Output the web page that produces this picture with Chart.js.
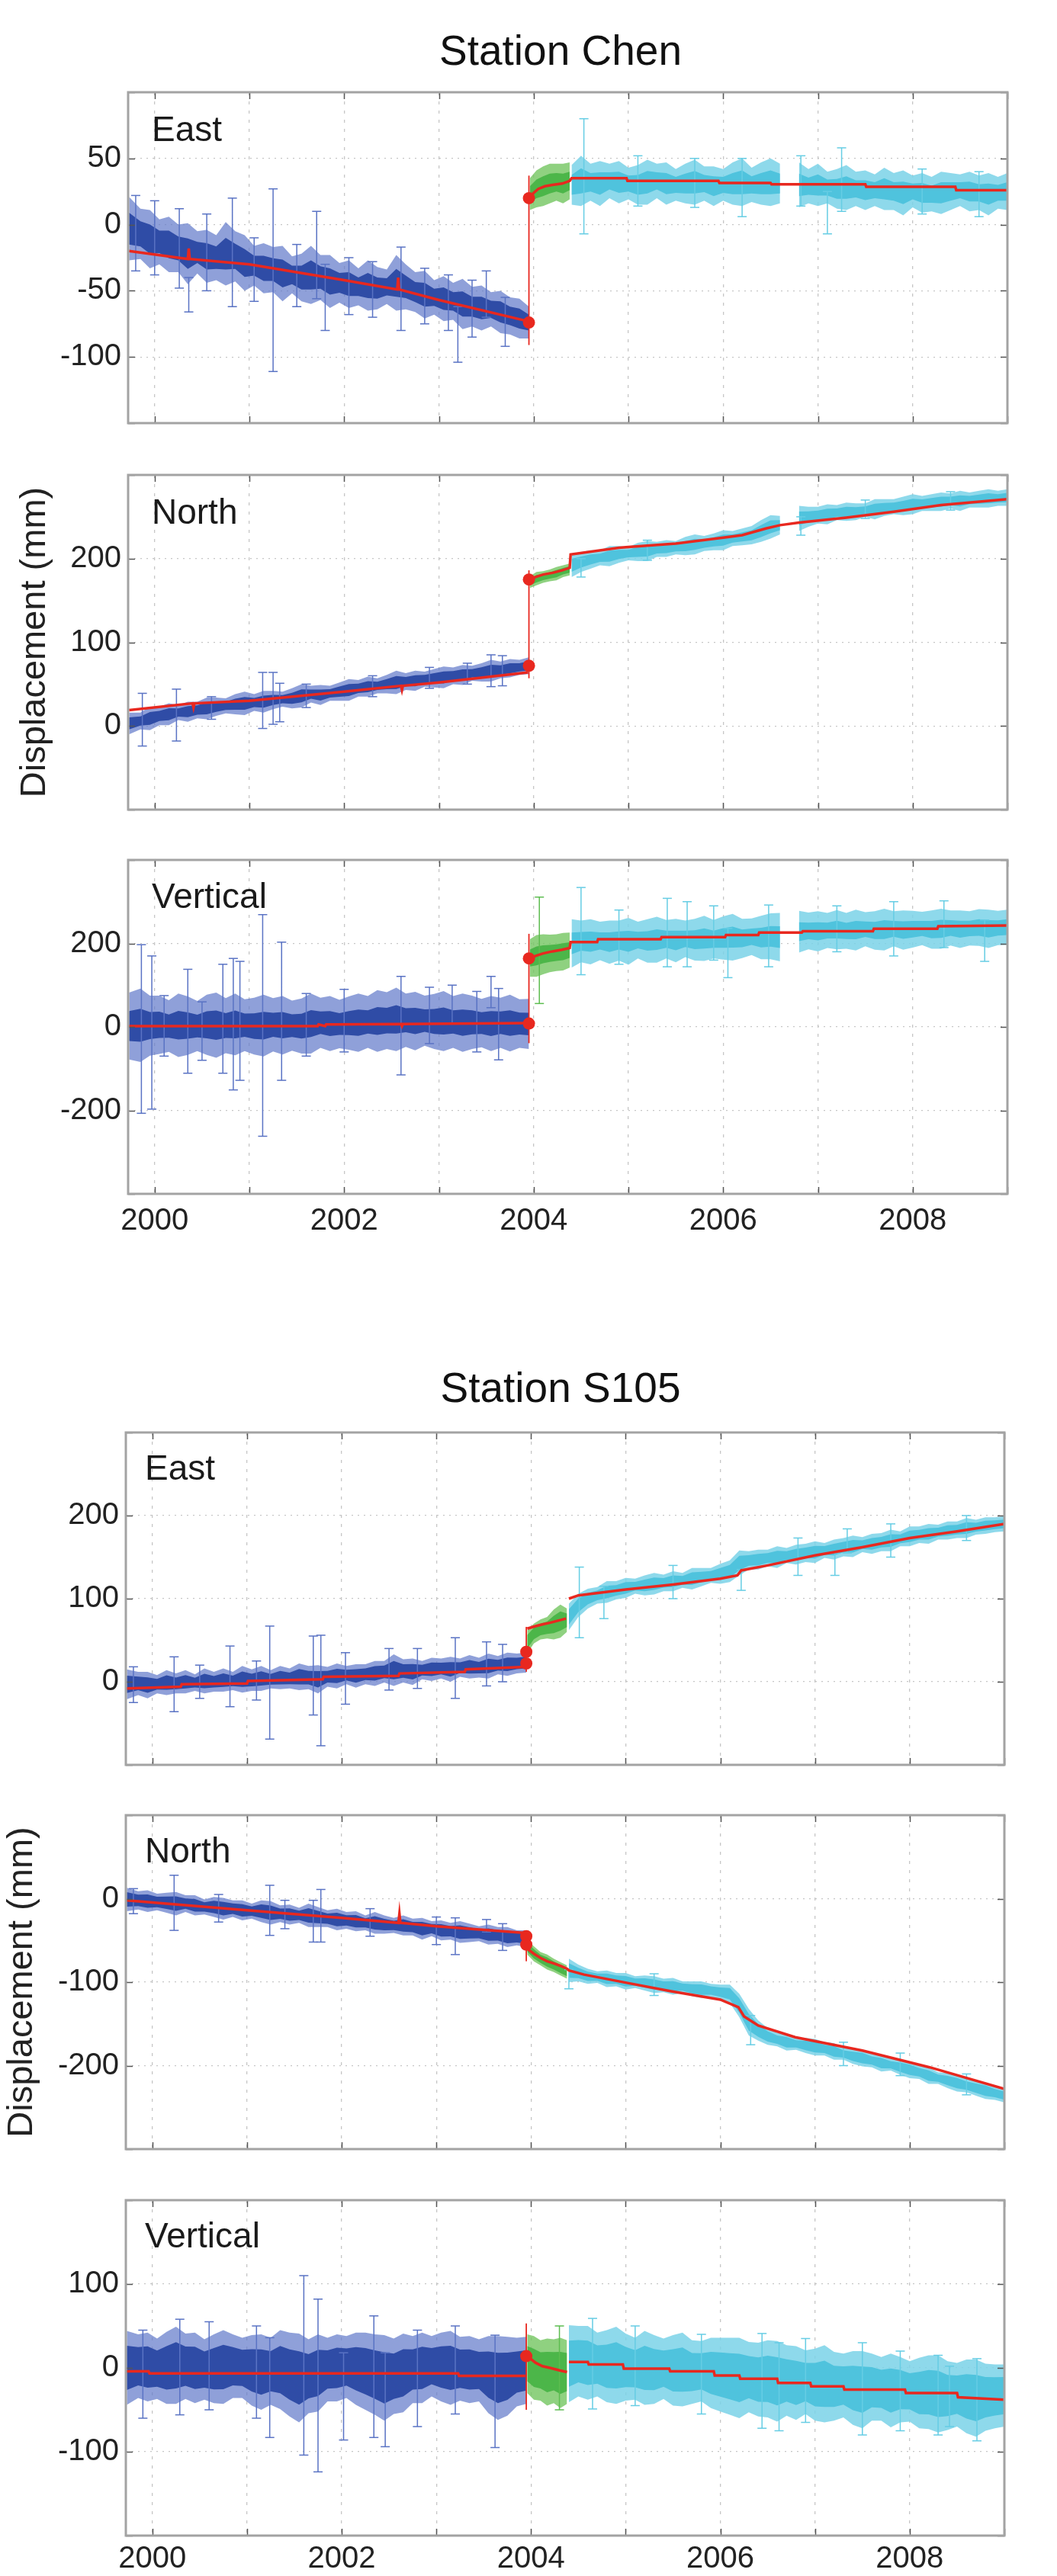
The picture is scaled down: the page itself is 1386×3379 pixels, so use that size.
<!DOCTYPE html>
<html>
<head>
<meta charset="utf-8">
<script src="https://cdn.jsdelivr.net/npm/chart.js@4.4.0/dist/chart.umd.min.js"></script>
<style>
  body { margin: 0; background: #fff; width: 1386px; height: 3379px; position: relative; overflow: hidden;
         font-family: "Liberation Sans", Arial, sans-serif; }
  .station { position: absolute; left: 535px; width: 400px; text-align: center; font-size: 55px; line-height: 55px; color: #111; }
  canvas { position: absolute; left: 0; }
</style>
</head>
<body>
<div class="station" style="top:39px">Station Chen</div>
<div class="station" style="top:1793px">Station S105</div>

<script>
// sample epochs (decimal years) of the three data segments
const blueYears = [1999.73, 1999.85, 1999.95, 2000.05, 2000.15, 2000.25, 2000.35, 2000.45, 2000.55, 2000.65, 2000.75, 2000.85, 2000.95,
  2001.05, 2001.15, 2001.25, 2001.35, 2001.45, 2001.55, 2001.65, 2001.75, 2001.85, 2001.95,
  2002.05, 2002.15, 2002.25, 2002.35, 2002.45, 2002.55, 2002.65, 2002.75, 2002.85, 2002.95,
  2003.05, 2003.15, 2003.25, 2003.35, 2003.45, 2003.55, 2003.65, 2003.75, 2003.85, 2003.95];
const greenYears = [2003.96, 2004.03, 2004.10, 2004.17, 2004.24, 2004.31, 2004.38];
const cyanYears = [2004.4, 2004.5, 2004.6, 2004.7, 2004.8, 2004.9, 2005.0, 2005.1, 2005.2, 2005.3,
  2005.4, 2005.5, 2005.6, 2005.7, 2005.8, 2005.9, 2006.0, 2006.1, 2006.2, 2006.3,
  2006.4, 2006.5, 2006.6, 2006.7, 2006.8, 2006.9, 2007.0, 2007.1, 2007.2, 2007.3,
  2007.4, 2007.5, 2007.6, 2007.7, 2007.8, 2007.9, 2008.0, 2008.1, 2008.2, 2008.3,
  2008.4, 2008.5, 2008.6, 2008.7, 2008.8, 2008.9, 2009.0];

// ---------- Station Chen, East ----------
const chenEastTicks = [-150, 100, 50];
const chenEastBlueMid = [-3, -7, -11, -13, -15, -18, -22, -21, -24, -25, -22, -24, -29, -31, -33, -34, -37, -38, -40, -38, -40, -43, -44,
  -45, -47, -46, -48, -47, -44, -47, -51, -53, -55, -56, -58, -60, -62, -63, -64, -66, -69, -71, -74];
const chenEastBlueErr = [24, 19, 22, 17, 21, 18, 23, 16, 20, 17, 24, 19, 21, 15, 19, 17, 21, 14, 18, 22, 17, 20, 15,
  18, 14, 19, 16, 13, 21, 17, 15, 18, 13, 17, 14, 19, 15, 17, 13, 16, 14, 15, 12];
const chenEastGreenMid = [23, 27, 29, 31, 32, 31, 33];
const chenEastGreenErr = [12, 14, 15, 15, 14, 15, 14];
const chenEastCyanMid = [30, 33, 32, 31, 33, 32, 31, 30, 32, 33, 31, 30, 31, 32, 31, 29, 30, 31, 32, 30, 31, 32, 31, null,
  30, 29, 30, 28, 27, 28, 27, 26, 26, 27, 25, 24, 25, 24, 23, 24, 25, 26, 25, 24, 23, 24, 25];
const chenEastCyanErr = [15, 19, 14, 17, 13, 16, 12, 15, 17, 13, 16, 12, 15, 17, 13, 15, 12, 16, 18, 13, 16, 18, 15, null,
  17, 13, 16, 12, 15, 17, 13, 15, 12, 16, 14, 17, 12, 15, 13, 16, 14, 12, 15, 13, 16, 12, 14];
const chenEastSpikeYears = [2000.26, 2000.36, 2000.82, 2001.25, 2001.71, 2001.8, 2002.6, 2003.2, 2003.5, 2004.53, 2006.2, 2006.82, 2007.1, 2007.25,
  1999.8, 2000.0, 2000.55, 2001.05, 2001.5, 2002.05, 2002.3, 2002.85, 2003.1, 2003.35, 2003.7, 2005.1, 2005.7, 2008.1, 2008.7];
const chenEastSpikeLo = [-48, -66, -62, -111, -56, -80, -80, -104, -70, -7, 6, 14, -7, 10,
  -35, -38, -50, -58, -62, -68, -70, -75, -80, -85, -92, 14, 13, 8, 6];
const chenEastSpikeHi = [12, -40, 20, 27, 10, -30, -17, -62, -35, 80, 50, 52, 25, 58,
  22, 18, 8, -10, -15, -25, -28, -33, -38, -42, -55, 52, 50, 42, 40];
const chenEastModelYears = [1999.73, 2000.35, 2000.36, 2000.37, 2001.0, 2002.0, 2002.56, 2002.57, 2002.58, 2003.0, 2003.94, 2003.95,
  2003.96, 2004.0, 2004.05, 2004.12, 2004.2, 2004.3, 2004.38,
  2004.4, 2004.98, 2004.99, 2005.95, 2005.96, 2006.5, 2006.51, 2007.5, 2007.51, 2008.45, 2008.46, 2009.0];
const chenEastModel = [-20, -26, -18, -26, -30, -42, -49, -40, -49, -57, -73, null,
  20, 24, 27, 29, 30, 31, 33,
  35, 35, 33, 33, 31.5, 31.5, 30.5, 30.5, 28.5, 28.5, 26, 26];
const chenEastOffset = [2003.95, -91, 37];
const chenEastDots = [-74, 20];

// ---------- Station Chen, North ----------
const chenNorthTicks = [-100, 300, 100];
const chenNorthBlueMid = [3, 6, 9, 12, 14, 16, 17, 19, 21, 23, 24, 26, 27, 28, 29, 31, 32, 33, 36, 38, 37, 39, 41,
  43, 45, 47, 48, 50, 52, 53, 54, 56, 57, 58, 60, 61, 63, 64, 66, 67, 69, 70, 72];
const chenNorthBlueErr = [13, 10, 14, 11, 13, 9, 12, 10, 13, 11, 9, 12, 14, 10, 13, 11, 9, 12, 14, 10, 12, 9, 11,
  13, 10, 12, 9, 11, 14, 10, 12, 9, 11, 13, 10, 12, 9, 11, 13, 10, 11, 9, 10];
const chenNorthGreenMid = [172, 176, 178, 180, 182, 185, 187];
const chenNorthGreenErr = [7, 8, 7, 7, 8, 7, 7];
const chenNorthCyanMid = [192, 196, 199, 201, 203, 205, 206, 208, 209, 211, 212, 213, 215, 217, 218, 220, 222, 224, 226, 228, 233, 238, 240, null,
  248, 250, 252, 253, 255, 256, 256, 258, 259, 261, 262, 263, 265, 266, 267, 268, 269, 269, 270, 271, 272, 272, 273];
const chenNorthCyanErr = [14, 12, 11, 9, 12, 10, 8, 11, 12, 9, 10, 8, 11, 12, 9, 10, 12, 9, 10, 11, 13, 14, 11, null,
  15, 12, 10, 12, 9, 11, 10, 8, 12, 10, 9, 11, 12, 9, 10, 11, 9, 12, 9, 10, 11, 9, 10];
const chenNorthSpikeYears = [1999.87, 2000.23, 2001.14, 2001.25, 2001.32, 2003.55, 2003.67, 2004.5, 2006.82,
  2000.6, 2001.6, 2002.3, 2002.9, 2003.3, 2005.2, 2007.5, 2008.4];
const chenNorthSpikeLo = [-24, -18, -3, 2, 5, 47, 48, 178, 228, 8, 22, 35, 45, 50, 198, 248, 258];
const chenNorthSpikeHi = [39, 44, 64, 64, 51, 85, 84, 200, 250, 35, 50, 60, 70, 75, 222, 270, 280];
const chenNorthModelYears = [1999.73, 2000.4, 2000.41, 2000.42, 2001.0, 2002.0, 2002.6, 2002.61, 2002.62, 2003.0, 2003.94, 2003.95,
  2003.96, 2004.02, 2004.1, 2004.2, 2004.3, 2004.38,
  2004.39, 2004.9, 2005.0, 2005.5, 2006.0, 2006.2, 2006.45, 2006.6, 2006.8, 2007.3, 2007.8, 2008.3, 2009.0];
const chenNorthModel = [19, 27, 22, 27, 30, 41, 48, 43, 48, 52, 64, null,
  175, 178, 181, 183, 186, 189,
  205, 213, 214, 218, 225, 228, 236, 240, 243, 249, 256, 264, 271];
const chenNorthOffset = [2003.95, 57, 186];
const chenNorthDots = [72, 175];

// ---------- Station Chen, Vertical ----------
const chenVertTicks = [-400, 400, 200];
const chenVertBlueMid = [2, 4, 3, 5, 2, 4, 3, 2, 5, 4, 3, 6, 4, 2, 3, 5, 4, 3, 2, 8, 10, 8, 7,
  9, 10, 12, 14, 15, 18, 16, 14, 15, 13, 14, 12, 10, 11, 9, 8, 10, 9, 8, 7];
const chenVertBlueErr = [80, 88, 72, 70, 62, 76, 70, 60, 72, 78, 66, 74, 62, 68, 74, 64, 70, 60, 66, 72, 60, 66, 58,
  64, 70, 62, 74, 68, 76, 64, 70, 60, 66, 72, 62, 70, 64, 58, 66, 60, 68, 58, 60];
const chenVertGreenMid = [165, 170, 174, 176, 178, 180, 184];
const chenVertGreenErr = [45, 50, 48, 45, 44, 45, 42];
const chenVertCyanMid = [200, 205, 204, 206, 203, 207, 205, 208, 206, 209, 210, 207, 211, 209, 212, 210, 213, 215, 212, 216, 214, 217, 215, null,
  228, 230, 229, 231, 233, 230, 232, 234, 231, 233, 235, 232, 234, 236, 233, 235, 237, 234, 236, 238, 235, 237, 239];
const chenVertCyanErr = [58, 50, 54, 46, 52, 48, 56, 44, 52, 55, 46, 52, 44, 50, 54, 46, 52, 56, 47, 44, 52, 55, 58, null,
  50, 44, 48, 42, 47, 43, 49, 41, 46, 50, 42, 47, 44, 40, 46, 48, 42, 45, 41, 44, 46, 41, 42];
const chenVertSpikeYears = [1999.86, 1999.97, 2000.35, 2000.72, 2000.83, 2000.9, 2001.14, 2001.34, 2002.6, 2003.14, 2003.55, 2003.63,
  2004.06, 2004.5, 2005.41, 2005.62, 2006.05, 2006.48, 2008.33, 2008.76,
  2000.1, 2000.5, 2001.6, 2002.0, 2002.9, 2003.4, 2004.9, 2005.9, 2007.2, 2007.8];
const chenVertSpikeLo = [-207, -197, -111, -111, -151, -128, -262, -128, -115, 7, 46, -79, 56, 125, 144, 144, 118, 144, 190, 157,
  -70, -80, -70, -60, -40, -60, 150, 160, 180, 170];
const chenVertSpikeHi = [197, 170, 138, 150, 164, 157, 269, 203, 121, 100, 121, 92, 311, 334, 308, 300, 236, 292, 302, 256,
  75, 60, 80, 90, 95, 85, 280, 290, 290, 300];
const chenVertModelYears = [1999.73, 2001.72, 2001.73, 2001.8, 2001.81, 2001.9, 2002.6, 2002.61, 2002.62, 2003.94, 2003.95,
  2003.96, 2004.02, 2004.1, 2004.2, 2004.3, 2004.38,
  2004.39, 2004.67, 2004.68, 2005.34, 2005.35, 2006.02, 2006.03, 2006.37, 2006.38, 2006.83, 2006.84, 2007.58, 2007.59, 2008.26, 2008.27, 2009.0];
const chenVertModel = [2, 2, 6, 2, 6, 6, 7, 2, 7, 9, null,
  164, 170, 176, 181, 185, 189,
  203, 203, 210, 210, 215, 215, 220, 220, 226, 226, 229, 229, 235, 235, 241, 243];
const chenVertOffset = [2003.95, -39, 223];
const chenVertDots = [8, 164];

// ---------- Station S105, East ----------
const s105EastTicks = [-100, 300, 100];
const s105EastBlueMid = [-3, -2, -4, -3, -1, -2, 0, -1, 1, 0, 2, 1, 3, 2, 4, 3, 5, 4, 6, 5, 3, 6, 7,
  8, 7, 9, 10, 12, 14, 13, 12, 14, 15, 16, 15, 17, 18, 17, 19, 20, 21, 22, 23];
const s105EastBlueErr = [18, 14, 16, 11, 15, 12, 14, 10, 15, 12, 14, 11, 16, 13, 15, 11, 14, 12, 16, 14, 17, 12, 15,
  11, 14, 12, 15, 13, 19, 14, 16, 11, 14, 12, 15, 11, 14, 12, 15, 11, 14, 12, 12];
const s105EastGreenMid = [48, 58, 63, 65, 69, 73, 74];
const s105EastGreenErr = [14, 12, 12, 13, 18, 20, 14];
const s105EastCyanMid = [78, 92, 100, 104, 108, 110, 113, 115, 116, 118, 119, 121, 122, 124, 126, 128, 130, 133, 143, 146,
  147, 149, 150, 152, 153, 155, 156, 158, 159, 162, 163, 165, 166, 168, 170, 172, 175, 177, 178, 180,
  182, 183, 185, 186, 188, 189, 190];
const s105EastCyanErr = [16, 14, 12, 10, 13, 11, 12, 9, 12, 13, 10, 12, 9, 13, 11, 9, 12, 13, 15, 11,
  12, 10, 13, 9, 12, 11, 13, 9, 12, 11, 13, 9, 12, 11, 13, 9, 12, 10, 12, 9,
  11, 10, 12, 9, 10, 9, 9];
const s105EastSpikeYears = [2000.23, 2000.82, 2001.24, 2001.7, 2001.78, 2002.04, 2003.2, 2003.53, 2004.51, 2004.77, 2006.22, 2006.82, 2007.21, 2007.34,
  1999.8, 2000.5, 2001.1, 2002.5, 2002.8, 2003.7, 2005.5, 2007.8, 2008.6];
const s105EastSpikeLo = [-36, -30, -69, -40, -77, -27, -20, -5, 53, 76, 110, 128, 128, 155,
  -25, -20, -22, -10, -8, 0, 100, 150, 170];
const s105EastSpikeHi = [30, 43, 67, 55, 56, 35, 53, 48, 138, 115, 135, 173, 155, 184,
  18, 20, 25, 40, 40, 45, 140, 190, 200];
const s105EastModelYears = [1999.73, 2000.3, 2000.31, 2001.0, 2001.01, 2001.8, 2001.81, 2002.6, 2002.61, 2003.3, 2003.31, 2003.94, 2003.95,
  2003.96, 2004.05, 2004.12, 2004.2, 2004.3, 2004.37, 2004.38,
  2004.4, 2004.5, 2005.0, 2005.5, 2006.0, 2006.18, 2006.22, 2006.5, 2007.0, 2007.5, 2008.0, 2008.5, 2009.0];
const s105EastModel = [-8, -6, -3, -2, 1, 3, 6, 7, 10, 12, 15, 18, null,
  64, 67, 69, 71, 74, 76, null,
  100, 104, 111, 117, 124, 128, 134, 140, 152, 162, 173, 181, 190];
const s105EastOffset = [2003.95, 12, 66];
const s105EastDots = [22, 36];

// ---------- Station S105, North ----------
const s105NorthTicks = [-300, 100, 100];
const s105NorthBlueMid = [-1, -2, -3, -4, -5, -6, -6, -8, -10, -10, -12, -12, -14, -15, -15, -17, -18, -19, -20, -20, -22, -24, -25,
  -26, -27, -29, -29, -31, -32, -32, -34, -36, -36, -38, -39, -40, -41, -42, -43, -44, -46, -47, -48];
const s105NorthBlueErr = [14, 11, 13, 10, 12, 14, 10, 12, 9, 12, 13, 10, 12, 9, 13, 14, 10, 12, 9, 14, 12, 10, 13,
  10, 12, 9, 13, 11, 9, 12, 10, 13, 9, 12, 10, 13, 11, 9, 12, 10, 12, 9, 10];
const s105NorthGreenMid = [-58, -66, -72, -76, -80, -84, -88];
const s105NorthGreenErr = [9, 9, 8, 9, 8, 8, 8];
const s105NorthCyanMid = [-86, -89, -93, -94, -96, -97, -99, -100, -101, -103, -104, -105, -106, -108, -109, -110, -112, -114, -128, -148,
  -158, -165, -169, -172, -174, -176, -178, -180, -183, -186, -189, -191, -194, -197, -199, -202, -205, -208, -212, -215,
  -218, -221, -224, -227, -230, -233, -236];
const s105NorthCyanErr = [14, 10, 9, 7, 10, 8, 10, 7, 9, 10, 8, 10, 7, 9, 10, 8, 9, 11, 14, 16,
  12, 10, 8, 10, 7, 9, 10, 8, 10, 7, 9, 10, 8, 10, 7, 9, 10, 8, 10, 7, 9, 10, 8, 9, 10, 8, 8];
const s105NorthSpikeYears = [2000.23, 2001.24, 2001.7, 2001.78, 2003.2, 2003.53, 2004.4, 2006.32, 2007.9,
  1999.8, 2000.7, 2001.4, 2002.3, 2003.0, 2003.7, 2005.3, 2007.3, 2008.6];
const s105NorthSpikeLo = [-38, -44, -52, -52, -67, -40, -108, -175, -212, -18, -28, -36, -45, -55, -62, -116, -200, -235];
const s105NorthSpikeHi = [28, 16, -2, 11, -23, -25, -85, -140, -185, 12, 5, -2, -12, -22, -30, -90, -172, -210];
const s105NorthModelYears = [1999.73, 2001.0, 2002.0, 2002.6, 2002.61, 2002.62, 2003.0, 2003.94, 2003.95,
  2003.96, 2004.03, 2004.1, 2004.17, 2004.25, 2004.32, 2004.38,
  2004.4, 2004.56, 2005.02, 2005.48, 2006.0, 2006.19, 2006.25, 2006.4, 2006.79, 2007.5, 2008.21, 2009.0];
const s105NorthModel = [-2, -14, -23, -29, -18, -29, -33, -41, null,
  -60, -66, -71, -75, -78, -81, -84,
  -86, -91, -101, -111, -121, -130, -141, -152, -166, -182, -202, -228];
const s105NorthOffset = [2003.95, -75, -40];
const s105NorthDots = [-45, -55];

// ---------- Station S105, Vertical ----------
const s105VertTicks = [-200, 200, 100];
const s105VertBlueMid = [0, 2, 1, -1, 0, 3, 2, 0, -2, -1, 1, 2, 0, -3, -5, -4, -2, -8, -12, -10, -6, -2, 0,
  1, -1, -4, -8, -12, -10, -6, -2, 0, 2, 1, 0, -1, -2, -3, -8, -12, -10, -5, -3];
const s105VertBlueErr = [44, 38, 41, 36, 43, 46, 39, 42, 36, 41, 44, 38, 36, 42, 45, 40, 47, 50, 53, 44, 46, 38, 40,
  37, 43, 46, 48, 51, 45, 47, 40, 42, 36, 41, 44, 38, 40, 37, 46, 50, 47, 41, 40];
const s105VertGreenMid = [5, 0, -3, -5, -4, -6, -5];
const s105VertGreenErr = [35, 38, 36, 40, 38, 42, 38];
const s105VertCyanMid = [5, 8, 6, 4, 2, 3, 1, -1, 0, -2, -1, -3, -2, -5, -4, -6, -8, -10, -12, -11,
  -14, -13, -16, -15, -18, -17, -20, -19, -22, -21, -24, -26, -23, -25, -27, -26, -28, -30, -29, -31,
  -33, -32, -34, -36, -35, -34, -33];
const s105VertCyanErr = [46, 42, 44, 38, 43, 46, 40, 37, 44, 41, 36, 42, 44, 38, 36, 42, 44, 46, 48, 42,
  44, 46, 48, 42, 44, 38, 43, 46, 41, 38, 44, 46, 40, 38, 44, 39, 36, 42, 44, 46,
  41, 38, 44, 46, 40, 38, 37];
const s105VertSpikeYears = [2000.29, 2001.24, 2001.6, 2001.75, 2002.02, 2002.34, 2002.46, 2003.62, 2004.3, 2004.65, 2006.44, 2006.62, 2007.5, 2008.42, 2008.71,
  1999.9, 2000.6, 2001.1, 2002.8, 2003.2, 2005.1, 2005.8, 2006.9, 2007.9, 2008.3];
const s105VertSpikeLo = [-56, -83, -104, -124, -86, -83, -94, -95, -50, -49, -72, -75, -80, -70, -87,
  -60, -50, -60, -70, -55, -45, -55, -65, -75, -80];
const s105VertSpikeHi = [58, 36, 110, 82, 18, 62, 18, 39, 50, 59, 41, 30, 30, 2, 11,
  45, 55, 50, 45, 50, 50, 40, 35, 20, 15];
const s105VertModelYears = [1999.73, 1999.96, 1999.97, 2003.23, 2003.24, 2003.94, 2003.95,
  2003.96, 2004.05, 2004.12, 2004.2, 2004.3, 2004.38, 2004.39,
  2004.4, 2004.6, 2004.61, 2004.97, 2004.98, 2005.46, 2005.47, 2005.93, 2005.94, 2006.2, 2006.21, 2006.6, 2006.61,
  2006.95, 2006.96, 2007.3, 2007.31, 2007.95, 2007.96, 2008.5, 2008.51, 2009.0];
const s105VertModel = [-4, -4, -6.5, -6.5, -9.5, -9.5, null,
  14, 6, 2, 0, -3, -5, null,
  7, 7, 4, 4, -1, -1, -4, -4, -9, -9, -13, -13, -18, -18, -22, -22, -26, -26, -30, -30, -35, -38];
const s105VertOffset = [2003.95, -50, 53];
const s105VertDots = [14];

// ---------- drawing ----------
const colors = {
  blue: { core: '#2f4ca6', err: 'rgba(100,124,202,0.72)', bar: '#5a73c4' },
  green: { core: '#4cb649', err: 'rgba(112,196,92,0.78)', bar: '#5dbd50' },
  cyan: { core: '#4fc3dd', err: 'rgba(122,210,232,0.85)', bar: '#66cde4' }
};
const red = '#e8281f';

const series = [
  { ticks: chenEastTicks, blue: [chenEastBlueMid, chenEastBlueErr], green: [chenEastGreenMid, chenEastGreenErr],
    cyan: [chenEastCyanMid, chenEastCyanErr], spikes: [chenEastSpikeYears, chenEastSpikeLo, chenEastSpikeHi],
    model: [chenEastModelYears, chenEastModel], offset: chenEastOffset, dots: chenEastDots },
  { ticks: chenNorthTicks, blue: [chenNorthBlueMid, chenNorthBlueErr], green: [chenNorthGreenMid, chenNorthGreenErr],
    cyan: [chenNorthCyanMid, chenNorthCyanErr], spikes: [chenNorthSpikeYears, chenNorthSpikeLo, chenNorthSpikeHi],
    model: [chenNorthModelYears, chenNorthModel], offset: chenNorthOffset, dots: chenNorthDots },
  { ticks: chenVertTicks, blue: [chenVertBlueMid, chenVertBlueErr], green: [chenVertGreenMid, chenVertGreenErr],
    cyan: [chenVertCyanMid, chenVertCyanErr], spikes: [chenVertSpikeYears, chenVertSpikeLo, chenVertSpikeHi],
    model: [chenVertModelYears, chenVertModel], offset: chenVertOffset, dots: chenVertDots },
  { ticks: s105EastTicks, blue: [s105EastBlueMid, s105EastBlueErr], green: [s105EastGreenMid, s105EastGreenErr],
    cyan: [s105EastCyanMid, s105EastCyanErr], spikes: [s105EastSpikeYears, s105EastSpikeLo, s105EastSpikeHi],
    model: [s105EastModelYears, s105EastModel], offset: s105EastOffset, dots: s105EastDots },
  { ticks: s105NorthTicks, blue: [s105NorthBlueMid, s105NorthBlueErr], green: [s105NorthGreenMid, s105NorthGreenErr],
    cyan: [s105NorthCyanMid, s105NorthCyanErr], spikes: [s105NorthSpikeYears, s105NorthSpikeLo, s105NorthSpikeHi],
    model: [s105NorthModelYears, s105NorthModel], offset: s105NorthOffset, dots: s105NorthDots },
  { ticks: s105VertTicks, blue: [s105VertBlueMid, s105VertBlueErr], green: [s105VertGreenMid, s105VertGreenErr],
    cyan: [s105VertCyanMid, s105VertCyanErr], spikes: [s105VertSpikeYears, s105VertSpikeLo, s105VertSpikeHi],
    model: [s105VertModelYears, s105VertModel], offset: s105VertOffset, dots: s105VertDots }
];

// panel boxes on the page (plot area edges in px) and how thick the dark point cloud is
const boxes = [
  { label: 'East', top: 121, bottom: 555, left: 168, right: 1321, dx: 31, dy: 64, core: 0.5 },
  { label: 'North', top: 623, bottom: 1062, left: 168, right: 1321, dx: 31, dy: 64, core: 0.55, yTitle: 18 },
  { label: 'Vertical', top: 1128, bottom: 1566, left: 168, right: 1321, dx: 31, dy: 63, core: 0.45, xLabels: 12 },
  { label: 'East', top: 1879, bottom: 2315, left: 165, right: 1317, dx: 25, dy: 62, core: 0.58 },
  { label: 'North', top: 2381, bottom: 2819, left: 165, right: 1317, dx: 25, dy: 62, core: 0.62, yTitle: 1 },
  { label: 'Vertical', top: 2886, bottom: 3326, left: 165, right: 1317, dx: 25, dy: 62, core: 0.6, xLabels: 7 }
];

function band(years, mid, err, k) {
  return years.map((x, i) => ({ x: x, y: mid[i] === null ? null : mid[i] + k * err[i] }));
}

function segmentSets(years, pair, c, core) {
  const mid = pair[0], err = pair[1];
  return [
    { data: band(years, mid, err, 1), fill: '+1', backgroundColor: c.err, order: 6 },
    { data: band(years, mid, err, -1), fill: false, order: 6 },
    { data: band(years, mid, err, core), fill: '+1', backgroundColor: c.core, order: 5 },
    { data: band(years, mid, err, -core), fill: false, order: 5 }
  ];
}

function spikeSets(sp) {
  const groups = { blue: [], green: [], cyan: [] };
  sp[0].forEach((x, i) => {
    const g = x < 2003.955 ? 'blue' : (x < 2004.39 ? 'green' : 'cyan');
    groups[g].push({ x: x, y: sp[1][i] }, { x: x, y: sp[2][i] }, { x: x, y: null });
  });
  return Object.keys(groups).map(g => ({
    data: groups[g], borderColor: colors[g].bar, borderWidth: 1.5,
    pointStyle: 'line', pointRadius: 6, pointBorderColor: colors[g].bar, pointBorderWidth: 1.5, order: 4
  }));
}

// frame, inward ticks and the component name
const framePlugin = {
  id: 'frame',
  afterDatasetsDraw(chart, args, opts) {
    const { ctx, chartArea: a, scales } = chart;
    ctx.save();
    ctx.strokeStyle = '#555';
    ctx.lineWidth = 1.5;
    ctx.beginPath();
    scales.x.ticks.forEach(t => {
      const px = Math.round(scales.x.getPixelForValue(t.value)) + 0.5;
      ctx.moveTo(px, a.bottom); ctx.lineTo(px, a.bottom - 9);
      ctx.moveTo(px, a.top); ctx.lineTo(px, a.top + 9);
    });
    scales.y.ticks.forEach(t => {
      const py = Math.round(scales.y.getPixelForValue(t.value)) + 0.5;
      ctx.moveTo(a.left, py); ctx.lineTo(a.left + 9, py);
      ctx.moveTo(a.right, py); ctx.lineTo(a.right - 9, py);
    });
    ctx.stroke();
    ctx.strokeStyle = '#a3a3a3';
    ctx.lineWidth = 3;
    ctx.strokeRect(a.left, a.top, a.right - a.left, a.bottom - a.top);
    ctx.fillStyle = '#1a1a1a';
    ctx.font = '46px "Liberation Sans", Arial, sans-serif';
    ctx.textBaseline = 'alphabetic';
    ctx.textAlign = 'left';
    ctx.fillText(opts.text, a.left + opts.dx, a.top + opts.dy);
    ctx.restore();
  }
};

Chart.defaults.font.family = '"Liberation Sans", Arial, sans-serif';

series.forEach((s, n) => {
  const b = boxes[n];
  const padTop = 40;
  const padBot = b.xLabels !== undefined ? 70 : 40;
  const canvas = document.createElement('canvas');
  canvas.width = 1386;
  canvas.height = (b.bottom - b.top) + padTop + padBot;
  canvas.style.top = (b.top - padTop) + 'px';
  document.body.appendChild(canvas);

  const yMin = s.ticks[0], yMax = s.ticks[1];
  const datasets = []
    .concat(segmentSets(blueYears, s.blue, colors.blue, b.core))
    .concat(segmentSets(greenYears, s.green, colors.green, b.core))
    .concat(segmentSets(cyanYears, s.cyan, colors.cyan, b.core))
    .concat(spikeSets(s.spikes))
    .concat([
      { data: s.model[0].map((x, i) => ({ x: x, y: s.model[1][i] })), borderColor: red, borderWidth: 3.5, order: 2 },
      { data: [{ x: s.offset[0], y: s.offset[1] }, { x: s.offset[0], y: s.offset[2] }], borderColor: red, borderWidth: 1.8, order: 1 },
      { data: s.dots.map(v => ({ x: s.offset[0], y: v })), showLine: false, pointRadius: 8,
        pointBackgroundColor: red, pointBorderWidth: 0, order: 0 }
    ]);

  new Chart(canvas, {
    type: 'line',
    data: { datasets: datasets },
    plugins: [framePlugin],
    options: {
      responsive: false,
      animation: false,
      devicePixelRatio: 1,
      events: [],
      layout: { padding: { top: padTop, right: 1386 - b.right, left: 0, bottom: 0 } },
      elements: {
        line: { borderWidth: 0, tension: 0 },
        point: { radius: 0 }
      },
      plugins: {
        legend: { display: false },
        tooltip: { enabled: false },
        frame: { text: b.label, dx: b.dx, dy: b.dy }
      },
      scales: {
        x: {
          type: 'linear',
          min: 1999.72,
          max: 2009,
          afterFit: sc => { sc.height = padBot; },
          grid: { color: '#c6c6c6', lineWidth: 1.3, drawTicks: false },
          border: { display: false, dash: [4, 8] },
          ticks: {
            stepSize: 1,
            includeBounds: false,
            autoSkip: false,
            maxRotation: 0,
            padding: b.xLabels || 0,
            color: '#222',
            font: { size: 40 },
            callback: v => (b.xLabels !== undefined && v % 2 === 0) ? String(v) : ''
          }
        },
        y: {
          min: yMin,
          max: yMax,
          afterFit: sc => { sc.width = b.left; },
          grid: { color: '#c6c6c6', lineWidth: 1.3, drawTicks: false },
          border: { display: false, dash: [2, 6] },
          ticks: {
            stepSize: s.ticks[2],
            padding: 9,
            color: '#222',
            font: { size: 40 },
            callback: v => (v === yMin || v === yMax) ? '' : String(v)
          },
          title: {
            display: b.yTitle !== undefined,
            text: 'Displacement (mm)',
            color: '#222',
            font: { size: 47 },
            padding: { top: b.yTitle || 0, bottom: 0 }
          }
        }
      }
    }
  });
});
</script>
</body>
</html>
